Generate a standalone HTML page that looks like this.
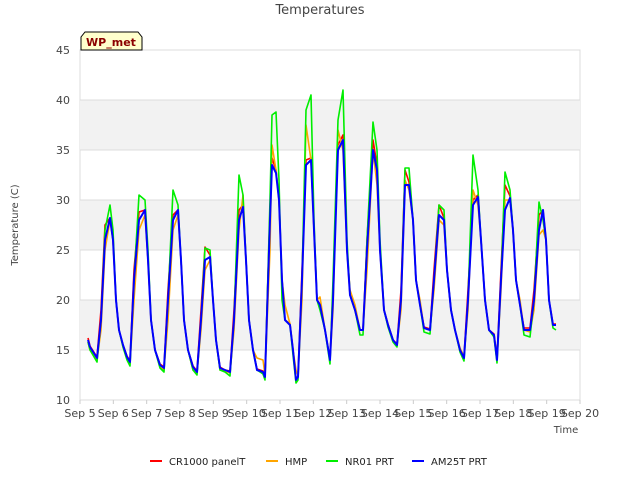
<!DOCTYPE html>
<html><head><meta charset="utf-8"><style>
body{margin:0;background:#fff;font-family:"Liberation Sans","DejaVu Sans",sans-serif}
svg text{font-family:"DejaVu Sans","Liberation Sans",sans-serif}
</style></head><body>
<svg id="chart" width="640" height="480" viewBox="0 0 640 480">
<text x="320" y="14" text-anchor="middle" font-size="13" fill="#444">Temperatures</text>
<g id="bands"></g><g id="grid"></g>
<g id="series"></g>
<g id="xticks" font-size="11" fill="#444"></g>
<g id="yticks" font-size="11" fill="#444"></g>
<text transform="translate(18,225) rotate(-90)" text-anchor="middle" font-size="10" fill="#444">Temperature (C)</text>
<text x="566" y="433" text-anchor="middle" font-size="10" fill="#444">Time</text>
<g>
<path d="M81,50 L81,37 L85,32 L138,32 L142,37 L142,50 Z" fill="#ffffcc" stroke="#000" stroke-width="1"/>
<text x="111" y="46" text-anchor="middle" font-size="11" font-weight="bold" fill="#8b0000">WP_met</text>
</g>
<g id="legend" font-size="10" fill="#222"></g>
</svg>
<script>
const times=[0.24,0.30,0.51,0.63,0.75,0.90,0.99,1.08,1.17,1.29,1.41,1.50,
1.62,1.77,1.95,2.04,2.13,2.25,2.40,2.52,
2.64,2.79,2.94,3.03,3.12,3.24,3.39,3.51,
3.63,3.75,3.90,3.99,4.08,4.20,4.35,4.50,
4.62,4.77,4.89,4.98,5.07,5.19,5.31,5.49,5.55,
5.70,5.76,5.88,5.97,6.06,6.15,6.30,6.39,6.48,6.54,
6.66,6.78,6.93,7.02,7.11,7.20,7.35,7.50,
7.59,7.74,7.89,8.01,8.10,8.25,8.40,8.49,
8.61,8.79,8.91,9.00,9.12,9.24,9.39,9.51,
9.63,9.75,9.87,9.99,10.08,10.20,10.32,10.50,
10.62,10.77,10.92,11.01,11.13,11.25,11.40,11.52,
11.64,11.79,11.94,12.03,12.15,12.27,12.42,12.51,
12.63,12.75,12.90,12.99,13.08,13.20,13.32,13.50,
13.62,13.77,13.89,13.98,14.07,14.19,14.28];
const cr1000=[16.2,15.4,14.3,19,27.5,28.2,26,20,17,15.5,14.4,13.9,
23,28.8,29,24,18,15,13.6,13.3,
21,28.5,29,24,18,15,13.4,12.9,
19,25.3,24.5,20,16,13.3,13,12.9,
19,29,29.5,24,18,15,13.1,12.9,12.4,
29,34.2,33,30,22,18,17.6,15,12.1,12.4,
23,34,34.2,27,20,19.6,17,14.1,
21,35.5,36.5,25,20.5,19,17,17,
26,36,33.5,25,19,17.6,16,15.6,
21,33,31.8,28,22,19.6,17.3,17.1,
23,29.5,28.2,23,19,17,15,14.3,
21,30,30.5,26,20,17,16.6,14.1,
23,31.5,30.4,27,22,19.5,17.2,17.2,
21,28.5,29,26,20,17.6,17.6];
const hmp=[15.8,15,14,17,25,28,26,20,17,15.3,14.1,13.6,
20,27,28.5,24,18,15,13.3,13,
18,27,28.5,24,18,15,13,12.7,
17,23,24,20,16,13,12.9,12.7,
17,27,30.5,24,18,15,14.2,14,12.5,
25,35.5,33,30,22,19.5,17.6,15,13,12.5,
20,37.5,34,27,20,20.3,17,14,
19,37,35,25,21,19.5,17,17,
23,35,31.5,25,19,17.5,16,15.5,
19,32,31,28,22,20,17.2,17,
21,28,27.5,23,19,17,15.2,14.4,
19,31,29.5,26,20,17,16.4,14,
21,30,30,27,22,20,17,16.8,
19,26.5,27,26,20,17.5,17.5];
const nr01=[15.8,15,13.8,18,27,29.5,27,20,17,15.3,14,13.4,
22,30.5,30,25,18,15,13.2,12.8,
20,31,29.5,24,18,15,13,12.5,
18,25.2,25,20,16,13,12.8,12.4,
18,32.5,30.5,24,18,15,13,12.6,12,
30,38.5,38.8,32,20,18,17.5,14.5,11.7,12,
22,39,40.5,28,20,19,17,13.6,
22,38,41,26,20.5,19,16.5,16.5,
26,37.8,35,26,19,17.3,15.8,15.3,
20,33.2,33.2,28,22,19.5,16.8,16.6,
22,29.5,29,23,19,17,14.8,13.9,
20,34.5,31,26,20,17,16.3,13.7,
22,32.8,31,27,22,19.5,16.5,16.3,
20,29.8,28,26,20,17.2,17];
const am25t=[16,15.3,14.2,18,26,28.2,26,20,17,15.5,14.3,13.8,
22,28,29,24,18,15,13.5,13.2,
20,28,29,24,18,15,13.3,12.8,
18,24,24.3,20,16,13.2,13,12.8,
18,28,29.3,24,18,15,13,12.8,12.3,
28,33.5,32.7,30,22,18,17.5,15,12,12.3,
22,33.5,34,27,20,19.5,17,14,
20,35,36,25,20.5,19,17,17,
25,35,33,25,19,17.5,16,15.5,
20,31.5,31.5,28,22,19.5,17.2,17,
22,28.5,28,23,19,17,15,14.2,
20,29.5,30.3,26,20,17,16.5,14,
22,29,30.2,27,22,19.5,17,17,
20,27,29,26,20,17.5,17.5];
const xLabels=["Sep 5","Sep 6","Sep 7","Sep 8","Sep 9","Sep 10","Sep 11","Sep 12","Sep 13","Sep 14","Sep 15","Sep 16","Sep 17","Sep 18","Sep 19","Sep 20"];
const yTicks=[10,15,20,25,30,35,40,45];
const seriesNames=["CR1000 panelT","HMP","NR01 PRT","AM25T PRT"];
const seriesColors=["#ff0000","#ffa500","#00ee00","#0000ff"];

const X0=80,X1=580,Y0=400,Y1=50;
const xs=d=>X0+(X1-X0)*d/15;
const ys=v=>Y0-(Y0-Y1)*(v-10)/35;
const NS="http://www.w3.org/2000/svg";
function mk(tag,parent,attrs){const e=document.createElementNS(NS,tag);for(const k in attrs)e.setAttribute(k,attrs[k]);parent.appendChild(e);return e;}
const svg=document.getElementById('chart');
mk('rect',document.getElementById('bands'),{x:X0,y:Y1,width:X1-X0,height:Y0-Y1,fill:'#fff',stroke:'#ddd'});
[[15,20],[25,30],[35,40]].forEach(b=>{
 const r=mk('rect',document.getElementById('bands'),{x:X0,y:ys(b[1]),width:X1-X0,height:ys(b[0])-ys(b[1]),fill:'#f2f2f2'});
 
 
});
yTicks.forEach(t=>{
 const l=mk('line',document.getElementById('grid'),{x1:X0,x2:X1,y1:ys(t),y2:ys(t),stroke:'#dcdcdc'});
 
 
 const tx=mk('text',document.getElementById('yticks'),{x:X0-10,y:ys(t)+4,'text-anchor':'end'});
 tx.textContent=t;
 
 
});
xLabels.forEach((s,i)=>{
 const tx=mk('text',document.getElementById('xticks'),{x:xs(i),y:417,'text-anchor':'middle'});
 tx.textContent=s;
 
 
 mk('line',document.getElementById('xticks'),{x1:xs(i),x2:xs(i),y1:Y0,y2:Y0+4,stroke:'#ccc'});
});
[cr1000,hmp,nr01,am25t].forEach((arr,si)=>{
 const pts=arr.map((v,i)=>xs(times[i]).toFixed(1)+','+ys(v).toFixed(1)).join(' ');
 const p=mk('polyline',document.getElementById('series'),{points:pts,fill:'none',stroke:seriesColors[si],'stroke-width':si===3?2:1.6,'stroke-linejoin':'round'});
 
 
});
const lx=[150,266,326,412];
seriesNames.forEach((n,i)=>{
 const g=mk('g',document.getElementById('legend'),{});
 
 
 mk('line',g,{x1:lx[i],x2:lx[i]+12,y1:461,y2:461,stroke:seriesColors[i],'stroke-width':2});
 const t=mk('text',g,{x:lx[i]+19,y:465});
 t.textContent=n;
});
</script>
</body></html>
